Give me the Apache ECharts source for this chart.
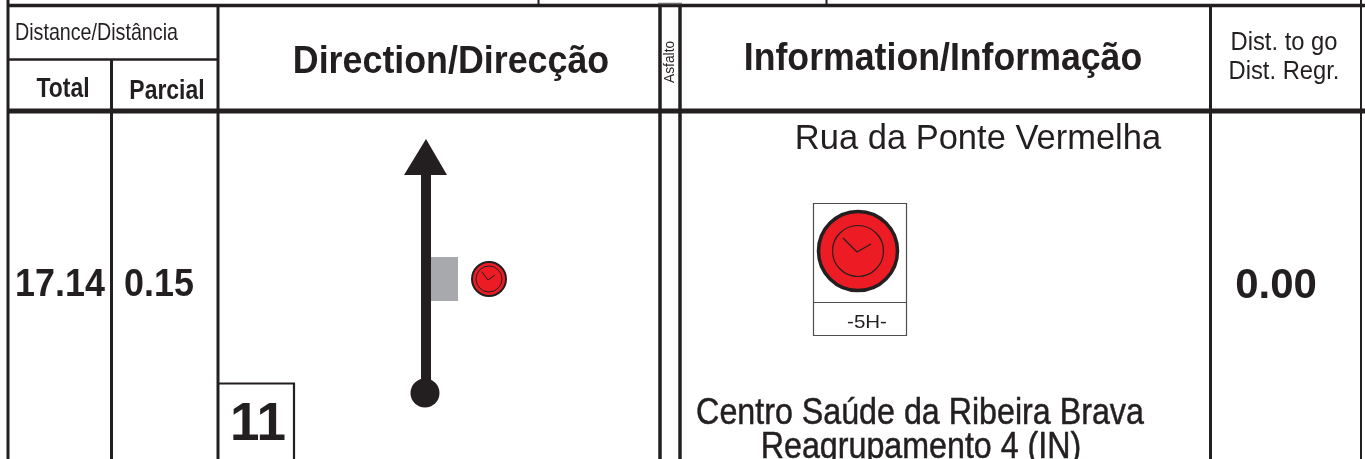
<!DOCTYPE html>
<html>
<head>
<meta charset="utf-8">
<style>
  html, body { margin: 0; padding: 0; background: #fff; }
  #main { width: 1365px; height: 459px; }
</style>
<script src="https://cdn.jsdelivr.net/npm/echarts@6/dist/echarts.min.js"></script>
</head>
<body>
<div id="main"></div>
<script>
// text of the roadbook row
const distanceHeader = ['Distance/Distância', 'Total', 'Parcial'];
const columnHeaders = ['Direction/Direcção', 'Asfalto', 'Information/Informação'];
const distToGoHeader = ['Dist. to go', 'Dist. Regr.'];
const distanceValues = ['17.14', '0.15'];
const distToGoValues = ['0.00'];
const stepNumbers = ['11'];
const infoLines = ['Rua da Ponte Vermelha', '-5H-', 'Centro Saúde da Ribeira Brava', 'Reagrupamento 4 (IN)'];

const INK = '#231f20';
const RED = '#ed1c24';
const GREY = '#a7a9ac';
const FONT = '"Liberation Sans", Arial, sans-serif';

function rule(x1, y1, x2, y2, width, color) {
  return {
    type: 'line',
    shape: { x1, y1, x2, y2 },
    style: { stroke: color || INK, lineWidth: width }
  };
}

// x, y is the baseline anchor; zrender only does top/middle/bottom so shift it up
function label(text, x, y, size, opts) {
  opts = opts || {};
  const rot = opts.rotation || 0;
  const off = size * 0.77;
  const style = {
    text,
    x: 0,
    y: 0,
    fill: opts.color || INK,
    font: (opts.bold ? 'bold ' : '') + size + 'px ' + FONT,
    align: opts.align || 'center',
    verticalAlign: 'top'
  };
  if (opts.heavy) {
    style.stroke = INK;
    style.lineWidth = opts.heavy;
  }
  return {
    type: 'text',
    x: x - Math.sin(rot) * off,
    y: y - Math.cos(rot) * off,
    rotation: rot,
    scaleX: opts.scaleX || 1,
    style
  };
}

function clock(cx, cy, r, ringR, outerWidth, handWidth, hand1, hand2) {
  return [
    { type: 'circle', shape: { cx, cy, r }, style: { fill: RED, stroke: INK, lineWidth: outerWidth } },
    { type: 'circle', shape: { cx, cy, r: ringR }, style: { fill: 'none', stroke: INK, lineWidth: handWidth } },
    {
      type: 'polyline',
      shape: { points: [hand1, [cx - 1, cy + 1], hand2] },
      style: { fill: 'none', stroke: INK, lineWidth: handWidth }
    }
  ];
}

const elements = [
  // table frame
  rule(8, 0, 8, 459, 3),
  rule(8, 5.5, 1365, 5.5, 3.5),
  rule(538.5, 0, 538.5, 5, 2),
  rule(826.5, 0, 826.5, 5, 2),
  rule(8, 111, 1365, 111, 5),
  rule(8, 59.5, 218, 59.5, 2.5),
  rule(111.5, 59, 111.5, 459, 3),
  rule(218, 5, 218, 459, 3),
  rule(660, 3, 660, 459, 3.5),
  rule(680, 3, 680, 459, 3.5),
  rule(658, 3.5, 682, 3.5, 1.5, '#6d6e71'),
  rule(1210.5, 5, 1210.5, 459, 3),
  rule(1361, 0, 1361, 459, 2),

  // step number box
  rule(218, 383.5, 295, 383.5, 2),
  rule(294, 383, 294, 459, 2.2),

  // headers
  label(distanceHeader[0], 15, 40, 24, { align: 'left', scaleX: 0.82 }),
  label(distanceHeader[1], 63, 97, 27, { bold: true, scaleX: 0.85 }),
  label(distanceHeader[2], 167, 99, 27, { bold: true, scaleX: 0.85 }),
  label(columnHeaders[0], 451, 73, 39, { bold: true, scaleX: 0.918 }),
  label(columnHeaders[1], 674, 83, 15, { rotation: Math.PI / 2, align: 'left', scaleX: 0.92 }),
  label(columnHeaders[2], 943, 70, 39, { bold: true, scaleX: 0.915 }),
  label(distToGoHeader[0], 1284, 50, 25, { scaleX: 0.95 }),
  label(distToGoHeader[1], 1284, 79, 25, { scaleX: 0.95 }),

  // values
  label(distanceValues[0], 60, 296, 39, { bold: true, scaleX: 0.92 }),
  label(distanceValues[1], 159, 296, 39, { bold: true, scaleX: 0.92 }),
  label(distToGoValues[0], 1276, 298, 42, { bold: true }),
  label(stepNumbers[0], 258, 440, 53, { bold: true }),

  // tulip
  { type: 'rect', shape: { x: 431, y: 257, width: 27, height: 44 }, style: { fill: GREY } },
  rule(426, 170, 426, 393, 10),
  { type: 'polygon', shape: { points: [[426, 139], [404, 175], [447, 175]] }, style: { fill: INK } },
  { type: 'circle', shape: { cx: 425, cy: 393, r: 14.5 }, style: { fill: INK } },
  ...clock(489, 279, 17, 13, 2, 1, [481.7, 271.7], [495, 275]),

  // information column
  label(infoLines[0], 978, 149, 34.5),
  { type: 'rect', shape: { x: 813.5, y: 203.5, width: 93, height: 132 }, style: { fill: 'none', stroke: '#4d4d4f', lineWidth: 1.2 } },
  rule(813, 302.5, 907, 302.5, 1.2, '#4d4d4f'),
  ...clock(858, 251, 39.5, 25.5, 3.5, 1.2, [843, 238], [871, 244]),
  label(infoLines[1], 867, 328, 19, { scaleX: 1.08 }),
  label(infoLines[2], 920, 424, 36, { scaleX: 0.895, heavy: 0.5 }),
  label(infoLines[3], 921, 458, 36, { scaleX: 0.895, heavy: 0.5 })
];

const chart = echarts.init(document.getElementById('main'), null, { renderer: 'canvas' });
chart.setOption({
  backgroundColor: '#fff',
  animation: false,
  graphic: { elements }
});
</script>
</body>
</html>
